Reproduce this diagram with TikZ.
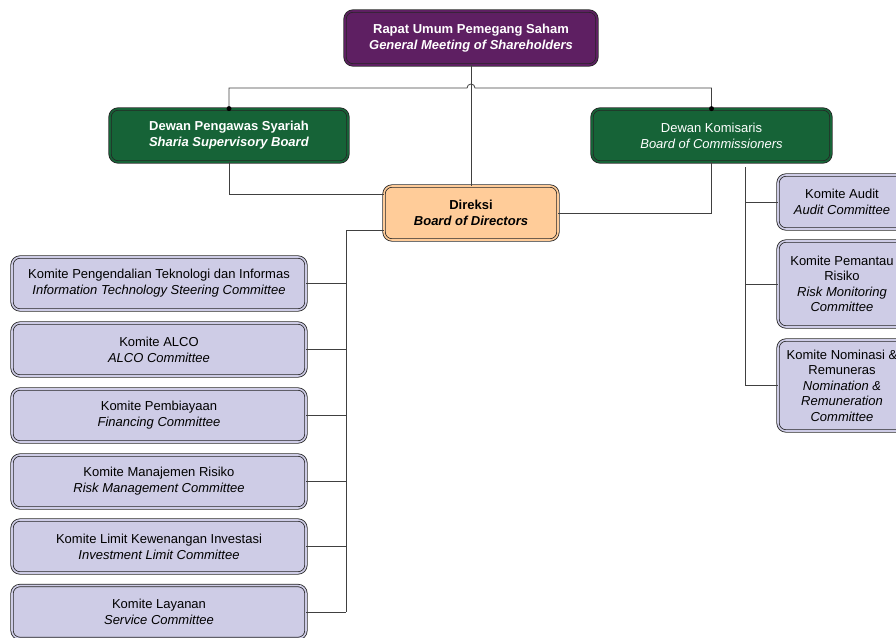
\documentclass[tikz,border=0pt]{standalone}
\usepackage{fontspec}
\setmainfont{Liberation Sans}
\usetikzlibrary{positioning}

\begin{document}
\begin{tikzpicture}[x=1pt,y=-1pt,line width=0.8pt,
	font=\fontsize{13}{16}\selectfont,
	box/.style={rectangle,rounded corners=8pt,draw=black!85,double distance=1.6pt,
		align=center,inner sep=2pt},
	dark node/.style={box,text=white},
	rups node/.style={dark node,fill=rupspurple,double=rupspurple},
	board node/.style={dark node,fill=boardgreen,double=boardgreen},
	dir node/.style={box,fill=dirorange,double=dirorange},
	com node/.style={box,fill=comlav,double=comlav,minimum width=294pt,minimum height=53pt},
	side node/.style={box,fill=comlav,double=comlav,minimum width=128pt,
		font=\fontsize{13}{15.5}\selectfont},
	link/.style={draw=black!75}]
	
	\definecolor{rupspurple}{RGB}{94,31,98}
	\definecolor{boardgreen}{RGB}{22,99,55}
	\definecolor{dirorange}{RGB}{255,204,153}
	\definecolor{comlav}{RGB}{206,204,230}
	
	\useasboundingbox (0,0) rectangle (896,637);
	
	% top of the chart
	\node[rups node, minimum width=252pt, minimum height=54pt] (rups) at (471,38)
		{\textbf{Rapat Umum Pemegang Saham}\\\textbf{\textit{General Meeting of Shareholders}}};
	\node[board node, minimum width=238pt, minimum height=53pt] (dps) at (229,135.5)
		{\textbf{Dewan Pengawas Syariah}\\\textbf{\textit{Sharia Supervisory Board}}};
	\node[board node, minimum width=239pt, minimum height=53pt] (kom) at (711.5,135.5)
		{Dewan Komisaris\\\textit{Board of Commissioners}};
	\node[dir node, minimum width=174pt, minimum height=54pt] (dir) at (471,213)
		{\textbf{Direksi}\\\textbf{\textit{Board of Directors}}};
	
	% committees under the directors
	\node[com node] (k1) at (159,283.5)
		{Komite Pengendalian Teknologi dan Informas\\\textit{Information Technology Steering Committee}};
	\node[com node] (k2) at (159,349.5) {Komite ALCO\\\textit{ALCO Committee}};
	\node[com node] (k3) at (159,415.5) {Komite Pembiayaan\\\textit{Financing Committee}};
	\node[com node] (k4) at (159,481.5) {Komite Manajemen Risiko\\\textit{Risk Management Committee}};
	\node[com node] (k5) at (159,546.5) {Komite Limit Kewenangan Investasi\\\textit{Investment Limit Committee}};
	\node[com node] (k6) at (159,612) {Komite Layanan\\\textit{Service Committee}};
	
	% committees under the commissioners
	\node[side node, minimum height=54pt] (c1) at (842,202) {Komite Audit\\\textit{Audit Committee}};
	\node[side node, minimum height=86pt] (c2) at (842,284)
		{Komite Pemantau\\Risiko\\\textit{Risk Monitoring}\\\textit{Committee}};
	\node[side node, minimum height=91pt] (c3) at (842,385.5)
		{Komite Nominasi \&\\Remuneras\\\textit{Nomination \&}\\\textit{Remuneration}\\\textit{Committee}};
	
	\coordinate (bar) at (471,88);
	\coordinate (lbus) at (346,230);
	\coordinate (rbus) at (745,167);
	
	\draw[link] (rups.south) -- (dir.north);
	\draw[link] (dps.north) |- ([xshift=-4pt]bar) arc (180:360:4) -- (bar -| kom.north) -- (kom.north);
	\fill (dps.north) circle (2.5pt) (kom.north) circle (2.5pt);
	\draw[link] (dps.south) |- ([yshift=19pt]dir.west);
	\draw[link] (dir.east) -| (kom.south);
	\draw[link] ([yshift=-17pt]dir.west) -- (lbus) -- (lbus |- k6.east);
	\foreach \k in {k1,k2,k3,k4,k5,k6}
		\draw[link] (\k.east) -- (\k.east -| lbus);
	\draw[link] (rbus) -- (rbus |- c3.west);
	\foreach \c in {c1,c2,c3}
		\draw[link] (\c.west) -- (\c.west -| rbus);
\end{tikzpicture}
\end{document}
